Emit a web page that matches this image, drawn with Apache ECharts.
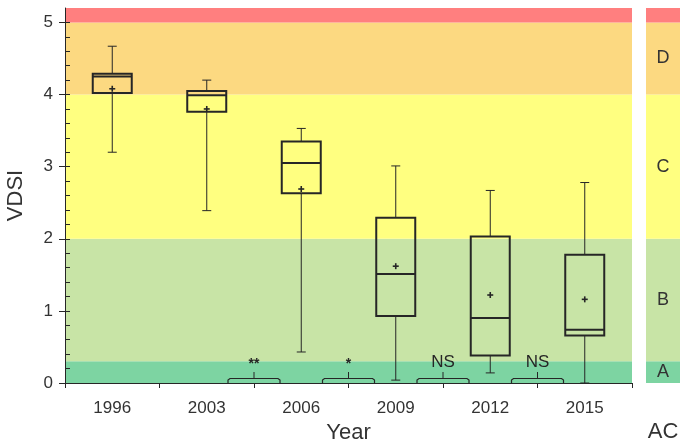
<!DOCTYPE html>
<html><head><meta charset="utf-8">
<script src="https://cdn.jsdelivr.net/npm/echarts@6/dist/echarts.min.js"></script>
<style>html,body{margin:0;padding:0;background:#fff}#c{width:681px;height:444px}</style>
</head><body><div id="c"></div>
<script>
// ---- data ----
const years = ['1996', '2003', '2006', '2009', '2012', '2015'];
const whiskerMin = [3.20, 2.39, 0.43, 0.04, 0.14, 0.00];
const q1 = [4.02, 3.76, 2.63, 0.93, 0.38, 0.66];
const median = [4.25, 3.99, 3.05, 1.51, 0.90, 0.74];
const q3 = [4.29, 4.05, 3.35, 2.29, 2.03, 1.78];
const whiskerMax = [4.67, 4.20, 3.53, 3.01, 2.67, 2.78];
const mean = [4.08, 3.80, 2.69, 1.62, 1.22, 1.16];
// significance marker placed between category sigAfter[k] and the next one
const sigAfter = [1, 2, 3, 4];
const sigLabels = ['**', '*', 'NS', 'NS'];
// assessment class bands
const bandEdges = [0, 0.3, 2, 4, 5, 5.2];
const bandClasses = ['A', 'B', 'C', 'D', ''];
const yTickValues = [0, 1, 2, 3, 4, 5];

// ---- styles ----
const bandColors = ['#7dd4a2', '#c8e4a6', '#ffff80', '#fcd981', '#ff7f7f'];
const ink = '#262626';
const txt = '#333333';
const font = 'Liberation Sans, Arial, sans-serif';

const boxData = years.map((y, i) => [i, whiskerMin[i], q1[i], median[i], q3[i], whiskerMax[i], mean[i]]);
const bandData = bandClasses.map((c, i) => [i, bandEdges[i], bandEdges[i + 1]]);
const sigData = sigAfter.map((a, k) => [a, 0]);
const acData = bandClasses.map((c, i) => +(bandEdges[i + 1] - bandEdges[i]).toFixed(3));

function renderBand(params, api) {
  const cs = params.coordSys;
  const lo = api.coord([0, api.value(1)])[1];
  const hi = api.coord([0, api.value(2)])[1];
  return { type: 'rect', shape: { x: cs.x, y: hi, width: cs.width, height: lo - hi },
    style: { fill: bandColors[params.dataIndex] } };
}

function renderBox(params, api) {
  const i = api.value(0);
  const x = api.coord([i, 0])[0];
  const Y = (d) => api.coord([i, api.value(d)])[1];
  const yMin = Y(1), yQ1 = Y(2), yMed = Y(3), yQ3 = Y(4), yMax = Y(5), yMean = Y(6);
  const half = 19.5, cap = 4.5, m = 3;
  const thin = { stroke: ink, lineWidth: 1 };
  const thick = { stroke: ink, lineWidth: 2, fill: null };
  return { type: 'group', children: [
    { type: 'line', shape: { x1: x, y1: yMax, x2: x, y2: yQ3 }, style: thin },
    { type: 'line', shape: { x1: x, y1: yQ1, x2: x, y2: yMin }, style: thin },
    { type: 'line', shape: { x1: x - cap, y1: yMax, x2: x + cap, y2: yMax }, style: thin },
    { type: 'line', shape: { x1: x - cap, y1: yMin, x2: x + cap, y2: yMin }, style: thin },
    { type: 'rect', shape: { x: x - half, y: yQ3, width: 2 * half, height: yQ1 - yQ3 }, style: thick },
    { type: 'line', shape: { x1: x - half, y1: yMed, x2: x + half, y2: yMed }, style: thick },
    { type: 'line', shape: { x1: x - m, y1: yMean, x2: x + m, y2: yMean }, style: { stroke: ink, lineWidth: 1.6 } },
    { type: 'line', shape: { x1: x, y1: yMean - m, x2: x, y2: yMean + m }, style: { stroke: ink, lineWidth: 1.6 } }
  ] };
}

function renderSig(params, api) {
  const a = api.value(0);
  const pa = api.coord([a, 0]);
  const pb = api.coord([a + 1, 0]);
  const x = (pa[0] + pb[0]) / 2, y0 = pa[1];
  const label = sigLabels[params.dataIndex];
  const isStar = label.indexOf('*') >= 0;
  return { type: 'group', children: [
    { type: 'polyline', shape: { points: [[x - 26, y0], [x - 26, y0 - 3], [x - 24, y0 - 4.5], [x + 24, y0 - 4.5], [x + 26, y0 - 3], [x + 26, y0]] },
      style: { stroke: ink, lineWidth: 1.2, fill: null } },
    { type: 'line', shape: { x1: x, y1: y0 - 4.5, x2: x, y2: y0 - 11 }, style: { stroke: ink, lineWidth: 1 } },
    { type: 'text', style: { text: label, x: x, y: y0 - 12, align: 'center', verticalAlign: 'bottom',
      font: (isStar ? 'bold 14px ' : '17px ') + font, fill: ink } }
  ] };
}

const chart = echarts.init(document.getElementById('c'), null, { renderer: 'canvas' });
chart.setOption({
  animation: false,
  backgroundColor: '#ffffff',
  grid: [
    { left: 65, right: 49, top: 8, bottom: 61, outerBoundsMode: 'none', containLabel: false },
    { left: 646, width: 34, top: 8, bottom: 61, outerBoundsMode: 'none', containLabel: false }
  ],
  xAxis: [
    { type: 'category', gridIndex: 0, data: years, boundaryGap: true, z: 10,
      name: 'Year', nameLocation: 'middle', nameGap: 38,
      nameTextStyle: { fontSize: 22, color: txt, fontFamily: font },
      axisLine: { lineStyle: { color: ink, width: 1 } },
      axisTick: { show: true, length: 5, alignWithLabel: false, lineStyle: { color: ink } },
      axisLabel: { fontSize: 17, color: txt, fontFamily: font, margin: 17 },
      splitLine: { show: false } },
    { type: 'category', gridIndex: 1, data: ['AC'], boundaryGap: true,
      name: 'AC', nameLocation: 'middle', nameGap: 38,
      nameTextStyle: { fontSize: 22, color: txt, fontFamily: font },
      axisLine: { show: false }, axisTick: { show: false }, axisLabel: { show: false } }
  ],
  yAxis: [
    { type: 'value', gridIndex: 0, min: 0, max: 5.2, interval: 0.2, z: 10,
      name: 'VDSI', nameLocation: 'middle', nameGap: 38, nameRotate: 90,
      nameTextStyle: { fontSize: 22, color: txt, fontFamily: font },
      axisLine: { show: true, lineStyle: { color: ink } },
      axisTick: { show: true, inside: true, length: 5, lineStyle: { color: ink } },
      axisLabel: { fontSize: 17, color: txt, fontFamily: font, margin: 12, showMaxLabel: false,
        formatter: (v) => (Math.abs(v - Math.round(v)) < 1e-6 ? String(Math.round(v)) : '') },
      splitLine: { show: false } },
    { type: 'value', gridIndex: 0, min: 0, max: 5.2, interval: 1, position: 'left', z: 10,
      axisLine: { show: false },
      axisTick: { show: true, length: 6, customValues: yTickValues, lineStyle: { color: ink } },
      axisLabel: { show: false }, splitLine: { show: false } },
    { type: 'value', gridIndex: 1, min: 0, max: 5.2, show: false }
  ],
  series: [
    { type: 'custom', xAxisIndex: 0, yAxisIndex: 0, z: 1, silent: true,
      renderItem: renderBand, data: bandData, encode: { x: -1, y: [1, 2] }, clip: true },
    { type: 'custom', xAxisIndex: 0, yAxisIndex: 0, z: 3,
      renderItem: renderBox, data: boxData, encode: { x: 0, y: [1, 2, 3, 4, 5, 6] } },
    { type: 'custom', xAxisIndex: 0, yAxisIndex: 0, z: 3,
      renderItem: renderSig, data: sigData, encode: { x: 0, y: 1 } },
    ...acData.map((v, i) => ({
      type: 'bar', xAxisIndex: 1, yAxisIndex: 2, stack: 'ac', barWidth: '100%',
      data: [v], itemStyle: { color: bandColors[i] }, silent: true,
      label: { show: bandClasses[i] !== '', position: 'inside', formatter: bandClasses[i],
        fontSize: 18, color: txt, fontFamily: font }
    }))
  ]
});
</script>
</body></html>
